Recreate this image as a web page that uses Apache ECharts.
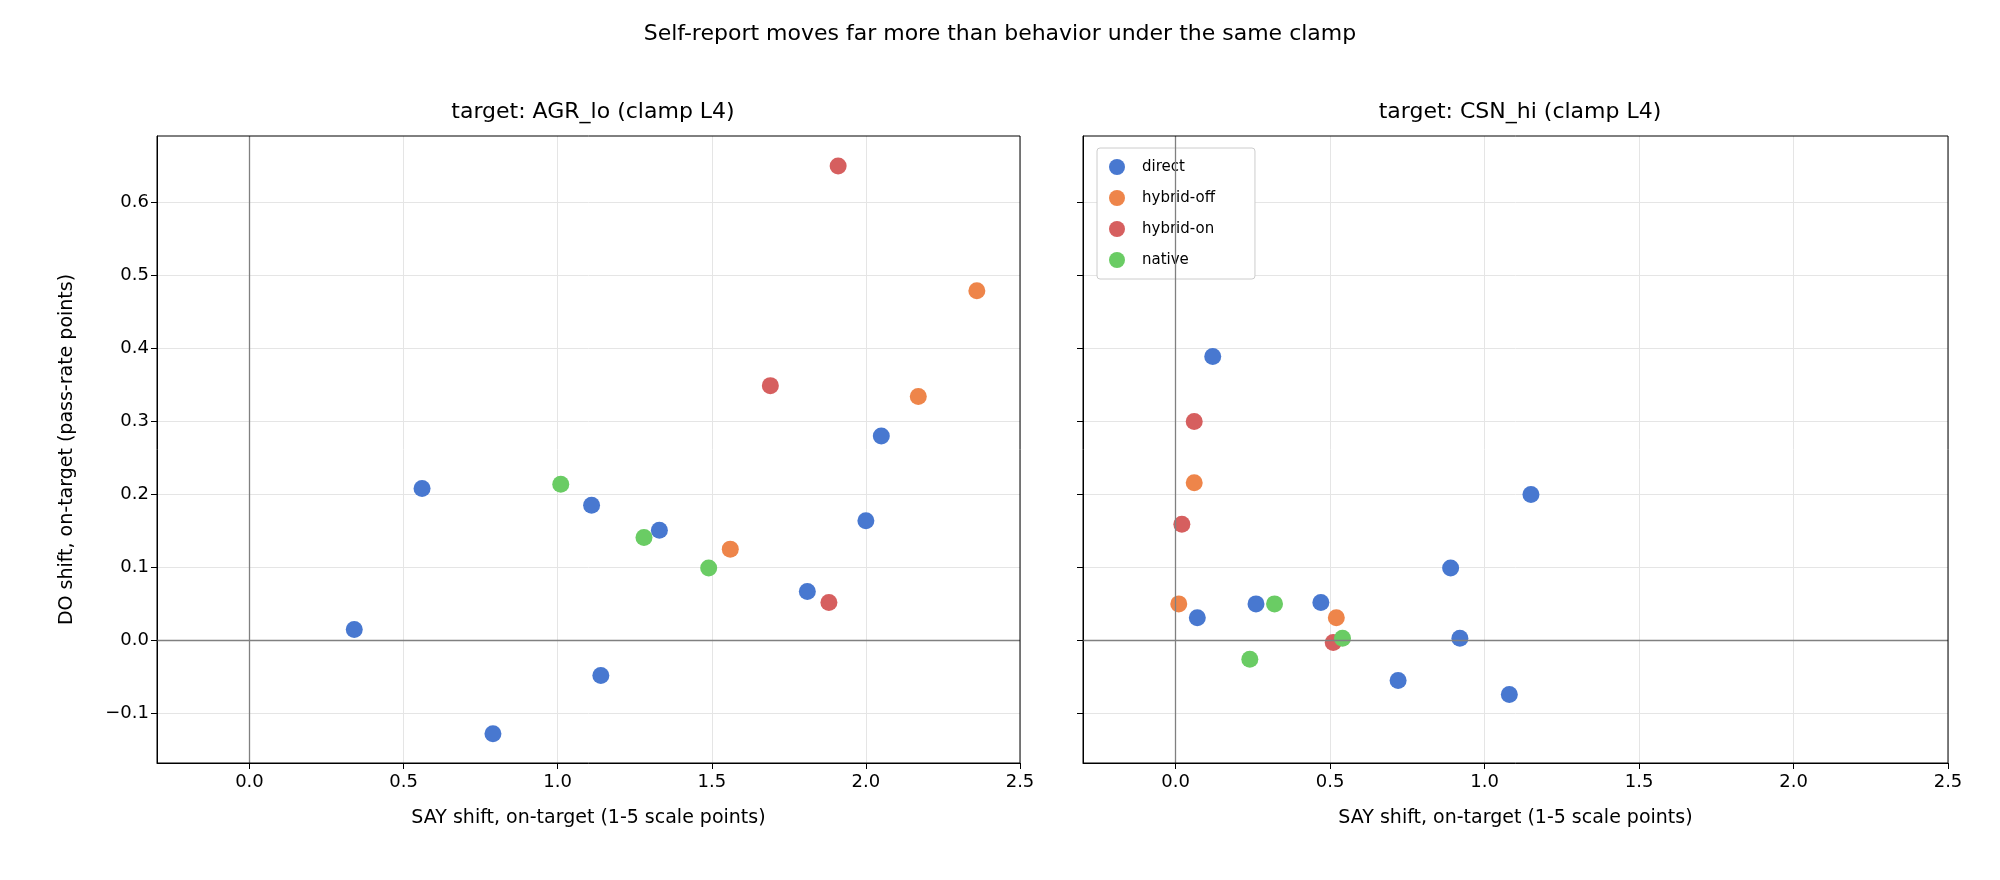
<!DOCTYPE html>
<html><head><meta charset="utf-8">
<script src="https://cdn.jsdelivr.net/npm/echarts@6/dist/echarts.min.js"></script>
<style>html,body{margin:0;background:#fff}#c{width:2000px;height:880px}</style>
</head><body><div id="c"></div>
<script>
const seriesNames = ['direct','hybrid-off','hybrid-on','native'];
const colors = ['#4878d0','#ee854a','#d65f5f','#6acc64'];
const xTicks = [0.0,0.5,1.0,1.5,2.0,2.5];
const yTicks = [-0.1,0.0,0.1,0.2,0.3,0.4,0.5,0.6];
const agrDirect = [[0.34,0.015],[0.56,0.208],[0.79,-0.128],[1.11,0.185],[1.14,-0.048],[1.33,0.151],[1.81,0.067],[2.0,0.164],[2.05,0.28]];
const agrHybridOff = [[1.56,0.125],[2.17,0.334],[2.36,0.479]];
const agrHybridOn = [[1.69,0.349],[1.91,0.65],[1.88,0.052]];
const agrNative = [[1.01,0.214],[1.28,0.141],[1.49,0.099]];
const csnDirect = [[0.12,0.389],[0.07,0.031],[0.26,0.05],[0.47,0.052],[0.89,0.099],[0.92,0.003],[0.72,-0.055],[1.08,-0.074],[1.15,0.2]];
const csnHybridOff = [[0.06,0.216],[0.01,0.05],[0.52,0.031]];
const csnHybridOn = [[0.06,0.3],[0.02,0.159],[0.51,-0.003]];
const csnNative = [[0.24,-0.026],[0.32,0.05],[0.54,0.003]];

const font = 'DejaVu Sans';
const grids = [{left:157,right:980,top:136,bottom:117},{left:1083,right:52,top:136,bottom:117}];
function xAxis(i){return {type:'value',gridIndex:i,min:-0.3,max:2.5,
  name:'SAY shift, on-target (1-5 scale points)',nameLocation:'middle',nameGap:46,
  nameTextStyle:{fontFamily:font,fontSize:19,color:'#000'},
  axisLine:{onZero:false,lineStyle:{color:'#000'}},
  axisTick:{show:true,customValues:xTicks,length:6,lineStyle:{color:'#000'}},
  axisLabel:{customValues:xTicks,formatter:v=>v.toFixed(1),fontFamily:font,fontSize:18,color:'#000',margin:10},
  splitLine:{show:true,lineStyle:{color:'#e5e5e5'}}};}
function yAxis(i){return {type:'value',gridIndex:i,min:-0.168,max:0.691,
  name:i===0?'DO shift, on-target (pass-rate points)':'',nameLocation:'middle',nameGap:80,
  nameTextStyle:{fontFamily:font,fontSize:19,color:'#000'},
  axisLine:{show:true,onZero:false,lineStyle:{color:'#000'}},
  axisTick:{show:true,customValues:yTicks,length:6,lineStyle:{color:'#000'}},
  axisLabel:{show:i===0,customValues:yTicks,formatter:v=>(v<0?'\u2212':'')+Math.abs(v).toFixed(1),fontFamily:font,fontSize:18,color:'#000'},
  splitLine:{show:true,lineStyle:{color:'#e5e5e5'}}};}
const panels=[[agrDirect,agrHybridOff,agrHybridOn,agrNative],[csnDirect,csnHybridOff,csnHybridOn,csnNative]];
const series=[];
panels.forEach((p,gi)=>{p.forEach((d,si)=>{series.push({type:'scatter',name:seriesNames[si],xAxisIndex:gi,yAxisIndex:gi,
  data:d,symbolSize:17,itemStyle:{color:colors[si],opacity:1},z:3,
  markLine:si===0?{silent:true,symbol:'none',label:{show:false},lineStyle:{color:'#808080',width:1.3,type:'solid'},
    data:[{xAxis:0},{yAxis:0}]}:undefined});});});
const chart=echarts.init(document.getElementById('c'));
chart.setOption({animation:false,
  title:[{text:'Self-report moves far more than behavior under the same clamp',left:'center',top:18,textStyle:{fontFamily:font,fontSize:22,fontWeight:'normal',color:'#000'}},
    {text:'target: AGR_lo (clamp L4)',left:588,textAlign:'center',top:96,textStyle:{fontFamily:font,fontSize:22,fontWeight:'normal',color:'#000'}},
    {text:'target: CSN_hi (clamp L4)',left:1515,textAlign:'center',top:96,textStyle:{fontFamily:font,fontSize:22,fontWeight:'normal',color:'#000'}}],
  grid:grids,xAxis:[xAxis(0),xAxis(1)],yAxis:[yAxis(0),yAxis(1)],
  graphic:[{type:'rect',shape:{x:157,y:136,width:863,height:627},style:{fill:'none',stroke:'#000',lineWidth:1},silent:true,z:10},
    {type:'rect',shape:{x:1083,y:136,width:865,height:627},style:{fill:'none',stroke:'#000',lineWidth:1},silent:true,z:10}],
  legend:{data:seriesNames,orient:'vertical',left:1097,top:148,itemGap:15,icon:'circle',itemWidth:16,itemHeight:16,
    padding:[11,40,11,12],borderColor:'#ccc',borderWidth:1,borderRadius:3,backgroundColor:'#fff',
    textStyle:{fontFamily:font,fontSize:15,color:'#000',padding:[0,0,0,12]}},
  series});
</script></body></html>
